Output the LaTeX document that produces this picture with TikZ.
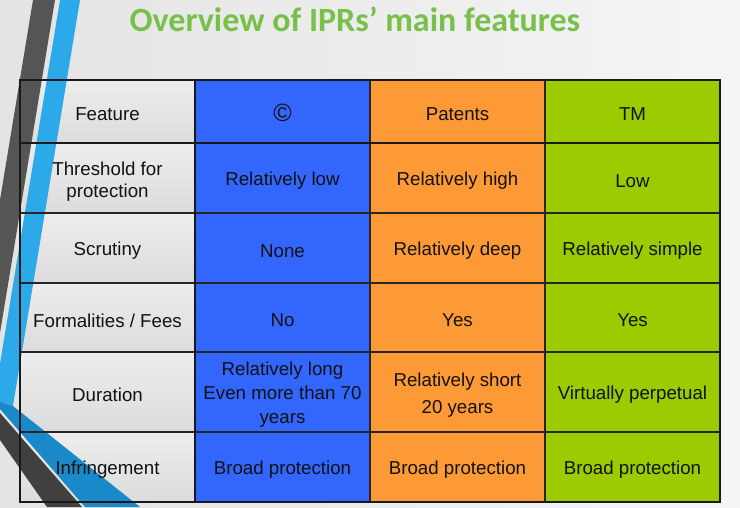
\documentclass[tikz,border=0pt]{standalone}
\usepackage{fontspec}
\setmainfont{Liberation Sans}
\newfontfamily\titlefont{Carlito}
\definecolor{bgL}{HTML}{E4E4E4}
\definecolor{bgR}{HTML}{F5F5F5}
\definecolor{titlegreen}{HTML}{79C04A}
\definecolor{cblue}{HTML}{3366FD}
\definecolor{corange}{HTML}{FD9A35}
\definecolor{cgreen}{HTML}{9BCB00}
\definecolor{lgrayT}{HTML}{EDEDED}
\definecolor{lgrayB}{HTML}{DCDCDC}
\definecolor{stripedark}{HTML}{555555}
\definecolor{stripeblue}{HTML}{2CA9E9}
\definecolor{banddark}{HTML}{404040}
\definecolor{bandblue}{HTML}{1A89C9}
\begin{document}
\begin{tikzpicture}[x=1pt,y=1pt,
  lbl/.style={font=\fontsize{18.7}{22}\selectfont, text=black!93, align=center, inner sep=0pt},
  txt/.style={lbl, yshift=-3pt},
  cellbox/.style={minimum width=175pt, anchor=center, inner sep=0pt},
  thinline/.style={line width=1.2pt, black!85},
  thickline/.style={line width=2.4pt, black!90}
  ]
\useasboundingbox (0,0) rectangle (740,-507);
\shade[left color=bgL, right color=bgR] (0,0) rectangle (740,-507);
% left column fill
\foreach \ya/\yb in {80/143,143/213,213/283,283/352,352/432,432/502}{
  \shade[top color=lgrayT, bottom color=lgrayB] (20,-\ya) rectangle (195,-\yb);
}
% decoration
\begin{scope}
\clip (0,0) rectangle (740,-507);
\fill[stripedark] (33,0) -- (55,0) -- (0,-333) -- (-10,-333) -- (-10,-260) -- (0,-200) -- cycle;
\fill[stripeblue] (60,0) -- (80,0) -- (13,-406) -- (-6,-400) -- cycle;
\fill[bandblue] (-6,-400) -- (13,-406) -- (140,-507) -- (85,-507) -- (0,-409) -- cycle;
\fill[banddark] (0,-413) -- (82,-507) -- (47,-507) -- (0,-440) -- cycle;
\end{scope}
% title
\node[font=\titlefont\bfseries\fontsize{34}{40}\selectfont, text=titlegreen, anchor=base, inner sep=0pt] (title) at (355,-31) {Overview of IPRs’ main features};
% cell fills
\node[cellbox, fill=cblue, minimum height=63pt] (c0) at (282.5,-111.5) {};
\node[cellbox, fill=cblue, minimum height=70pt] (c1) at (282.5,-178) {};
\node[cellbox, fill=cblue, minimum height=70pt] (c2) at (282.5,-248) {};
\node[cellbox, fill=cblue, minimum height=69pt] (c3) at (282.5,-317.5) {};
\node[cellbox, fill=cblue, minimum height=80pt] (c4) at (282.5,-392) {};
\node[cellbox, fill=cblue, minimum height=70pt] (c5) at (282.5,-467) {};
\node[cellbox, fill=corange, minimum height=63pt] (p0) at (457.5,-111.5) {};
\node[cellbox, fill=corange, minimum height=70pt] (p1) at (457.5,-178) {};
\node[cellbox, fill=corange, minimum height=70pt] (p2) at (457.5,-248) {};
\node[cellbox, fill=corange, minimum height=69pt] (p3) at (457.5,-317.5) {};
\node[cellbox, fill=corange, minimum height=80pt] (p4) at (457.5,-392) {};
\node[cellbox, fill=corange, minimum height=70pt] (p5) at (457.5,-467) {};
\node[cellbox, fill=cgreen, minimum height=63pt] (t0) at (632.5,-111.5) {};
\node[cellbox, fill=cgreen, minimum height=70pt] (t1) at (632.5,-178) {};
\node[cellbox, fill=cgreen, minimum height=70pt] (t2) at (632.5,-248) {};
\node[cellbox, fill=cgreen, minimum height=69pt] (t3) at (632.5,-317.5) {};
\node[cellbox, fill=cgreen, minimum height=80pt] (t4) at (632.5,-392) {};
\node[cellbox, fill=cgreen, minimum height=70pt] (t5) at (632.5,-467) {};
% left column texts
\node[txt] (f0) at (107.5,-111.5) {Feature};
\node[txt] (f1) at (107.5,-179) {Threshold for\\protection};
\node[txt] (f2) at (107.5,-248) {Scrutiny};
\node[txt] (f3) at (107.5,-317.5) {Formalities / Fees};
\node[txt] (f4) at (107.5,-392) {Duration};
\node[txt] (f5) at (107.5,-467) {Infringement};
% blue texts
\node[lbl, font=\fontsize{25}{28}\selectfont, yshift=-1.5pt] (c0t) at (c0) {©};
\node[txt] (c1t) at (c1) {Relatively low};
\node[txt] (c2t) at (c2) {None};
\node[txt] (c3t) at (c3) {No};
\node[txt, font=\fontsize{18.7}{24}\selectfont] (c4t) at (c4) {Relatively long\\Even more than 70\\years};
\node[txt] (c5t) at (c5) {Broad protection};
% orange texts
\node[txt] (p0t) at (p0) {Patents};
\node[txt] (p1t) at (p1) {Relatively high};
\node[txt] (p2t) at (p2) {Relatively deep};
\node[txt] (p3t) at (p3) {Yes};
\node[txt, font=\fontsize{18.7}{27}\selectfont] (p4t) at (p4) {Relatively short\\20 years};
\node[txt] (p5t) at (p5) {Broad protection};
% green texts
\node[txt] (t0t) at (t0) {TM};
\node[txt] (t1t) at (t1) {Low};
\node[txt] (t2t) at (t2) {Relatively simple};
\node[txt] (t3t) at (t3) {Yes};
\node[txt] (t4t) at (t4) {Virtually perpetual};
\node[txt] (t5t) at (t5) {Broad protection};
% grid
\foreach \y in {213,283,352,432}{\draw[thinline] (20,-\y) -- (720,-\y);}
\foreach \x in {370,545}{\draw[thinline] (\x,-80) -- (\x,-502);}
\draw[thickline] (20,-143) -- (720,-143);
\draw[line width=2pt, black!90] (195,-80) -- (195,-502);
\draw[thickline] (20,-80) rectangle (720,-502);
\end{tikzpicture}
\end{document}
